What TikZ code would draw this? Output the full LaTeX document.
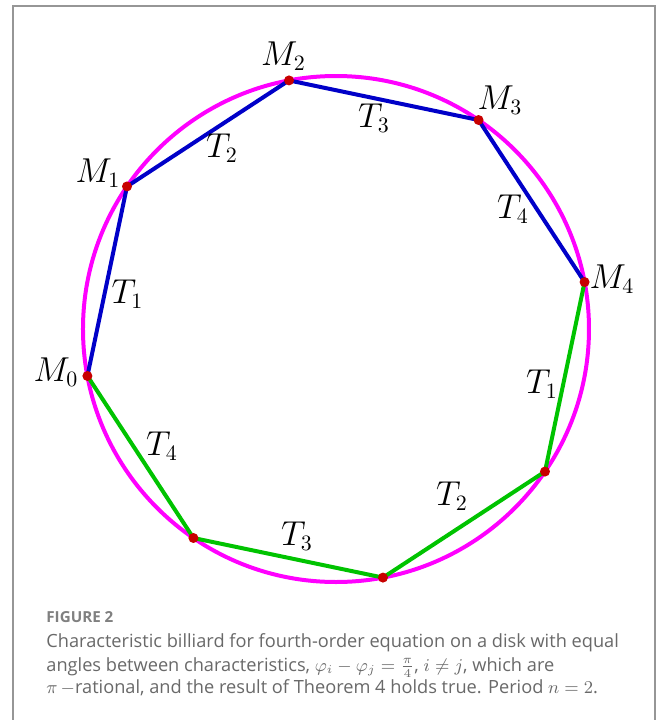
\documentclass[tikz,border=0pt]{standalone}
\usepackage{fontspec}
\newfontfamily\capfont{Open Sans}
\definecolor{diskpink}{RGB}{255,0,255}
\definecolor{chordblue}{RGB}{0,0,200}
\definecolor{chordgreen}{RGB}{0,195,0}
\definecolor{dotred}{RGB}{200,0,0}
\definecolor{capgray}{RGB}{105,105,105}
\definecolor{framegray}{RGB}{150,150,150}
\tikzset{
  chord/.style={line width=2pt, line join=round, line cap=round},
  lbl/.style={font=\fontsize{16}{19}\selectfont, anchor=base, inner sep=0pt},
  captext/.style={font=\capfont\fontsize{9.1}{11}\selectfont, text=capgray, anchor=base west, inner sep=0pt}
}

\begin{document}
\begin{tikzpicture}[x=0.5pt, y=0.5pt]
  \useasboundingbox[fill=white] (-336,-391) rectangle (322,329);
  \draw[framegray, line width=1pt] (-323,-392) -- (-323,323) -- (319,323) -- (319,-392);
  % disk and the eight reflection points
  \draw[diskpink, line width=2pt] (0,0) circle (253);
  \foreach \k in {0,...,7}
    \coordinate (M\k) at ({190.7-45*\k}:253);
  \draw[chord, chordblue] (M0) -- (M1) -- (M2) -- (M3) -- (M4);
  \draw[chord, chordgreen] (M4) -- (M5) -- (M6) -- (M7) -- (M0);
  \foreach \k in {0,...,7}
    \fill[dotred] (M\k) circle (5);
  % point labels
  \node[lbl] (m0) at (-280,-52) {$M_0$};
  \node[lbl] (m1) at (-238,147) {$M_1$};
  \node[lbl] (m2) at (-52.5,264) {$M_2$};
  \node[lbl] (m3) at (164,220) {$M_3$};
  \node[lbl] (m4) at (276,41) {$M_4$};
  % chord labels
  \node[lbl] (t1b) at (-208.5,26) {$T_1$};
  \node[lbl] (t2b) at (-114,172) {$T_2$};
  \node[lbl] (t3b) at (38,202) {$T_3$};
  \node[lbl] (t4b) at (177,111) {$T_4$};
  \node[lbl] (t1g) at (206,-64) {$T_1$};
  \node[lbl] (t2g) at (116,-176) {$T_2$};
  \node[lbl] (t3g) at (-39,-216) {$T_3$};
  \node[lbl] (t4g) at (-174,-126) {$T_4$};
  % caption
  \node[captext, font=\capfont\bfseries\fontsize{7.6}{10}\selectfont, text=capgray!85] (fig) at (-290,-293.3) {FIGURE 2};
  \node[captext] (cap1) at (-290,-318.7) {Characteristic billiard for fourth-order equation on a disk with equal};
  \node[captext] (cap2) at (-290,-342) {angles between characteristics, $\varphi_i-\varphi_j=\frac{\pi}{4}$, $i\neq j$, which are};
  \node[captext] (cap3) at (-290,-364.3) {$\pi\,-$rational, and the result of Theorem 4 holds true. Period $n=2$.};
\end{tikzpicture}
\end{document}
